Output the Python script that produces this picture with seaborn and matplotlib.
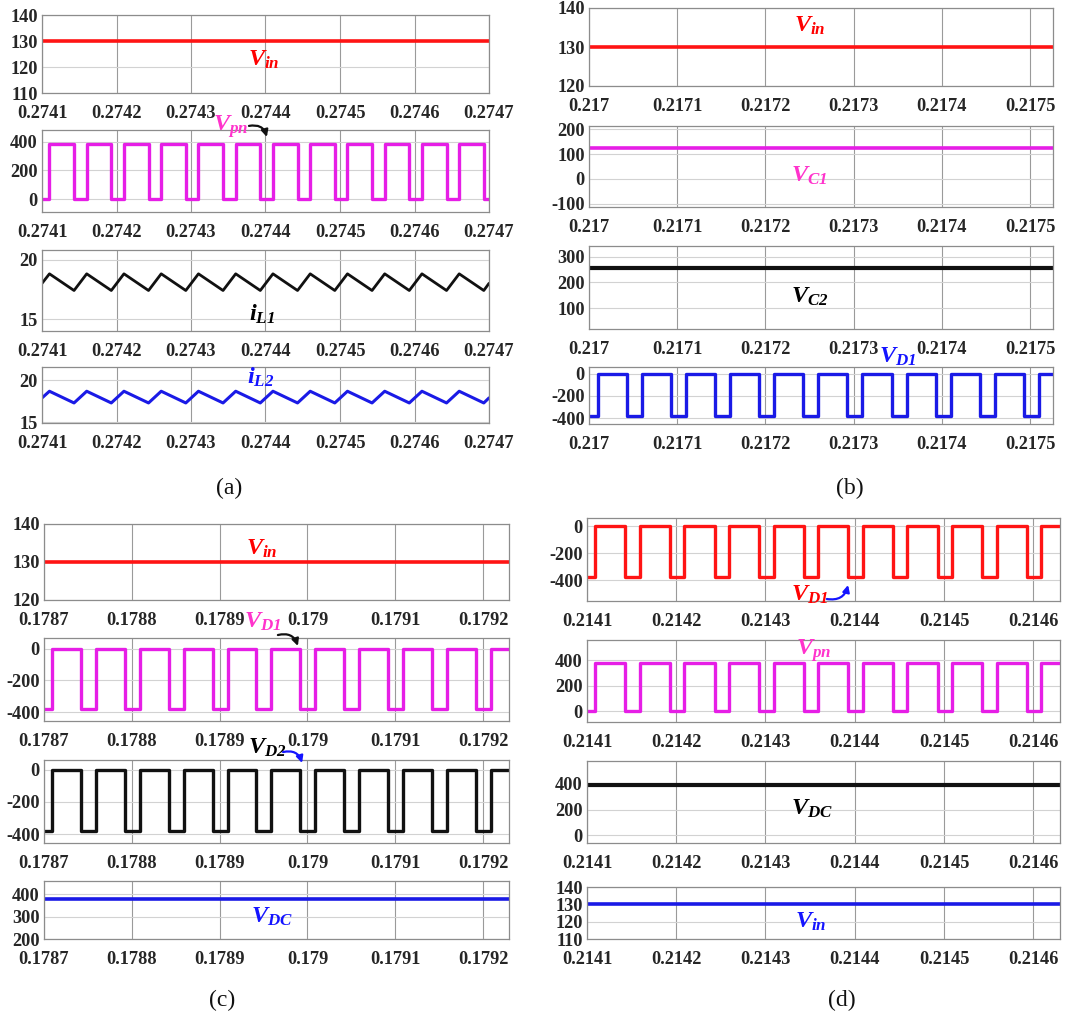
import matplotlib
matplotlib.use("Agg")
import matplotlib.pyplot as plt
import pandas as pd
import seaborn as sns

# ---------------- data ----------------
# (a) window 0.2741 .. 0.2747 s
a_xticks = [0.2741, 0.2742, 0.2743, 0.2744, 0.2745, 0.2746, 0.2747]
a_xlabels = ["0.2741", "0.2742", "0.2743", "0.2744", "0.2745", "0.2746", "0.2747"]
a_vin = 130
a_vpn_on = [0.274110, 0.274160, 0.274210, 0.274260, 0.274310, 0.274360,
            0.274410, 0.274460, 0.274510, 0.274560, 0.274610, 0.274660]
a_vpn_off = [0.274143, 0.274193, 0.274243, 0.274293, 0.274343, 0.274393,
             0.274443, 0.274493, 0.274543, 0.274593, 0.274643, 0.274693]
a_vpn_levels = [0, 380]
a_il1_peak, a_il1_valley, a_il1_ends = 18.8, 17.4, [18.0, 18.0]
a_il2_peak, a_il2_valley, a_il2_ends = 18.7, 17.3, [17.9, 17.9]

# (b) window 0.217 .. 0.21753 s
b_xticks = [0.217, 0.2171, 0.2172, 0.2173, 0.2174, 0.2175]
b_xlabels = ["0.217", "0.2171", "0.2172", "0.2173", "0.2174", "0.2175"]
b_vin = 130
b_vc1 = 126
b_vc2 = 256
b_vd1_on = [0.217010, 0.217060, 0.217110, 0.217160, 0.217210, 0.217260,
            0.217310, 0.217360, 0.217410, 0.217460, 0.217510]
b_vd1_off = [0.217043, 0.217093, 0.217143, 0.217193, 0.217243, 0.217293,
             0.217343, 0.217393, 0.217443, 0.217493]
b_vd1_levels = [-380, 0]

# (c) window 0.1787 .. 0.17923 s
c_xticks = [0.1787, 0.1788, 0.1789, 0.179, 0.1791, 0.1792]
c_xlabels = ["0.1787", "0.1788", "0.1789", "0.179", "0.1791", "0.1792"]
c_vin = 130
c_vd_on = [0.178709, 0.178759, 0.178809, 0.178859, 0.178909, 0.178959,
           0.179009, 0.179059, 0.179109, 0.179159, 0.179209]
c_vd_off = [0.178742, 0.178792, 0.178842, 0.178892, 0.178942, 0.178992,
            0.179042, 0.179092, 0.179142, 0.179192]
c_vd_levels = [-380, 0]
c_vdc = 380

# (d) window 0.2141 .. 0.21463 s
d_xticks = [0.2141, 0.2142, 0.2143, 0.2144, 0.2145, 0.2146]
d_xlabels = ["0.2141", "0.2142", "0.2143", "0.2144", "0.2145", "0.2146"]
d_sw_on = [0.214109, 0.214159, 0.214209, 0.214259, 0.214309, 0.214359,
           0.214409, 0.214459, 0.214509, 0.214559, 0.214609]
d_sw_off = [0.214143, 0.214193, 0.214243, 0.214293, 0.214343, 0.214393,
            0.214443, 0.214493, 0.214543, 0.214593]
d_vd1_levels = [-380, 0]
d_vpn_levels = [0, 380]
d_vdc = 390
d_vin = 130

# ---------------- style ----------------
sns.set_theme(style="whitegrid")
plt.rcParams.update({
    "font.family": ["Liberation Serif", "DejaVu Serif"],
    "font.weight": "bold",
    "axes.unicode_minus": False,
    "mathtext.fontset": "custom",
    "mathtext.it": "Liberation Serif:italic:bold",
    "mathtext.rm": "Liberation Serif:italic:bold",
    "mathtext.bf": "Liberation Serif:italic:bold",
})

RED = "#ff1414"
MAG = "#e61ee6"
BLK = "#111111"
BLU = "#1a1ae6"

W, H = 1075, 1017
fig = plt.figure(figsize=(W / 100, H / 100), dpi=100)


def make_ax(l, t, r, b, xlim, xticks, xlabels, ylim, yticks):
    ax = fig.add_axes([l / W, 1 - b / H, (r - l) / W, (b - t) / H])
    ax.set_xlim(*xlim)
    ax.set_ylim(*ylim)
    ax.set_xticks(xticks)
    ax.set_xticklabels(xlabels)
    ax.set_yticks(yticks)
    ax.set_yticklabels([str(v) for v in yticks])
    ax.xaxis.grid(True, color="#9a9a9a", lw=0.8)
    ax.yaxis.grid(True, color="#d2d2d2", lw=0.8)
    for s in ax.spines.values():
        s.set_color("#8c8c8c")
        s.set_linewidth(0.9)
    ax.tick_params(axis="x", length=0, pad=8.5, labelsize=13.2)
    ax.tick_params(axis="y", length=0, pad=3, labelsize=13.2)
    for lab in ax.get_xticklabels() + ax.get_yticklabels():
        lab.set_fontweight("bold")
    return ax


def square_wave(xlim, on_times, off_times, levels):
    low, high = levels
    edges = sorted([(t, high) for t in on_times] + [(t, low) for t in off_times])
    start = low if edges[0][1] == high else high
    t = [xlim[0]] + [e[0] for e in edges] + [xlim[1]]
    v = [start] + [e[1] for e in edges] + [edges[-1][1]]
    return pd.DataFrame({"t": t, "v": v})


def triangle_wave(xlim, peak_times, valley_times, peak, valley, ends):
    pts = sorted([(t, peak) for t in peak_times] + [(t, valley) for t in valley_times])
    t = [xlim[0]] + [p[0] for p in pts] + [xlim[1]]
    v = [ends[0]] + [p[1] for p in pts] + [ends[1]]
    return pd.DataFrame({"t": t, "v": v})


def flat(xlim, value):
    return pd.DataFrame({"t": [xlim[0], xlim[1]], "v": [value, value]})


def draw(ax, df, color, lw=2.4, steps=False):
    kw = dict(drawstyle="steps-post") if steps else {}
    sns.lineplot(data=df, x="t", y="v", ax=ax, color=color, lw=lw,
                 estimator=None, sort=False, **kw)
    ax.set(xlabel="", ylabel="")


def label(ax, x, y, text, color):
    ax.text(x, y, text, transform=ax.transAxes, ha="center", va="center",
            color=color, fontsize=17.5, clip_on=False)


def arrow(ax, p0, p1, color, rad):
    ax.annotate("", xy=p1, xytext=p0, xycoords=ax.transAxes,
                textcoords=ax.transAxes, annotation_clip=False,
                arrowprops=dict(arrowstyle="-|>", color=color, lw=1.6,
                                mutation_scale=10,
                                connectionstyle=f"arc3,rad={rad}",
                                shrinkA=0, shrinkB=0))


# ---------------- panel (a) ----------------
axl = (0.2741, 0.2747)
ax = make_ax(42, 15, 489, 93, axl, a_xticks, a_xlabels, (110, 140), [110, 120, 130, 140])
draw(ax, flat(axl, a_vin), RED, lw=2.6)
label(ax, 0.497, 0.423, r"$V_{in}$", "#ff0000")

ax = make_ax(42, 130, 489, 212, axl, a_xticks, a_xlabels, (-90, 480), [0, 200, 400])
draw(ax, square_wave(axl, a_vpn_on, a_vpn_off, a_vpn_levels), MAG, steps=True)
label(ax, 0.422, 1.04, r"$V_{pn}$", "#ff33cc")
arrow(ax, (0.463, 1.05), (0.503, 0.915), "#111111", -0.45)

ax = make_ax(42, 250, 489, 331, axl, a_xticks, a_xlabels, (14, 20.8), [15, 20])
draw(ax, triangle_wave(axl, a_vpn_on, a_vpn_off, a_il1_peak, a_il1_valley, a_il1_ends), BLK, lw=2.0)
label(ax, 0.493, 0.2, r"$i_{L1}$", "#000000")

ax = make_ax(42, 367, 489, 423, axl, a_xticks, a_xlabels, (14.9, 21.6), [15, 20])
draw(ax, triangle_wave(axl, a_vpn_on, a_vpn_off, a_il2_peak, a_il2_valley, a_il2_ends), BLU, lw=2.2)
label(ax, 0.488, 0.81, r"$i_{L2}$", "#1414ff")

# ---------------- panel (b) ----------------
bxl = (0.217, 0.217526)
ax = make_ax(589, 8, 1053, 86, bxl, b_xticks, b_xlabels, (120, 140), [120, 130, 140])
draw(ax, flat(bxl, b_vin), RED, lw=2.6)
label(ax, 0.476, 0.77, r"$V_{in}$", "#ff0000")

ax = make_ax(589, 126, 1053, 207, bxl, b_xticks, b_xlabels, (-113, 213), [-100, 0, 100, 200])
draw(ax, flat(bxl, b_vc1), MAG, lw=2.6)
label(ax, 0.474, 0.383, r"$V_{C1}$", "#ff33cc")

ax = make_ax(589, 246, 1053, 329, bxl, b_xticks, b_xlabels, (20, 341), [100, 200, 300])
draw(ax, flat(bxl, b_vc2), BLK, lw=3.0)
label(ax, 0.476, 0.39, r"$V_{C2}$", "#000000")

ax = make_ax(589, 367, 1053, 424, bxl, b_xticks, b_xlabels, (-450, 58), [-400, -200, 0])
draw(ax, square_wave(bxl, b_vd1_on, b_vd1_off, b_vd1_levels), BLU, steps=True)
label(ax, 0.666, 1.175, r"$V_{D1}$", "#1414ff")

# ---------------- panel (c) ----------------
cxl = (0.1787, 0.1792296)
ax = make_ax(44, 524, 509, 600, cxl, c_xticks, c_xlabels, (120, 140), [120, 130, 140])
draw(ax, flat(cxl, c_vin), RED, lw=2.6)
label(ax, 0.469, 0.67, r"$V_{in}$", "#ff0000")

ax = make_ax(44, 638, 509, 721, cxl, c_xticks, c_xlabels, (-455, 67), [-400, -200, 0])
draw(ax, square_wave(cxl, c_vd_on, c_vd_off, c_vd_levels), MAG, steps=True)
label(ax, 0.471, 1.19, r"$V_{D1}$", "#ff33cc")
arrow(ax, (0.503, 1.036), (0.546, 0.904), "#111111", -0.45)

ax = make_ax(44, 760, 509, 843, cxl, c_xticks, c_xlabels, (-456, 62), [-400, -200, 0])
draw(ax, square_wave(cxl, c_vd_on, c_vd_off, c_vd_levels), BLK, steps=True)
label(ax, 0.48, 1.145, r"$V_{D2}$", "#000000")
arrow(ax, (0.514, 1.096), (0.555, 0.964), "#1414ff", -0.45)

ax = make_ax(44, 881, 509, 939, cxl, c_xticks, c_xlabels, (200, 460), [200, 300, 400])
draw(ax, flat(cxl, c_vdc), BLU, lw=2.6)
label(ax, 0.49, 0.38, r"$V_{DC}$", "#1414ff")

# ---------------- panel (d) ----------------
dxl = (0.2141, 0.214630)
ax = make_ax(587, 518, 1060, 601, dxl, d_xticks, d_xlabels, (-555, 63), [-400, -200, 0])
draw(ax, square_wave(dxl, d_sw_on, d_sw_off, d_vd1_levels), RED, steps=True)
label(ax, 0.471, 0.07, r"$V_{D1}$", "#ff0000")
arrow(ax, (0.507, 0.024), (0.552, 0.193), "#1414ff", 0.45)

ax = make_ax(587, 640, 1060, 722, dxl, d_xticks, d_xlabels, (-85, 560), [0, 200, 400])
draw(ax, square_wave(dxl, d_sw_on, d_sw_off, d_vpn_levels), MAG, steps=True)
label(ax, 0.48, 0.866, r"$V_{pn}$", "#ff33cc")

ax = make_ax(587, 761, 1060, 843, dxl, d_xticks, d_xlabels, (-58, 574), [0, 200, 400])
draw(ax, flat(dxl, d_vdc), BLK, lw=3.0)
label(ax, 0.476, 0.415, r"$V_{DC}$", "#000000")

ax = make_ax(587, 887, 1060, 939, dxl, d_xticks, d_xlabels, (110, 140), [110, 120, 130, 140])
draw(ax, flat(dxl, d_vin), BLU, lw=2.6)
label(ax, 0.474, 0.33, r"$V_{in}$", "#1414ff")

# ---------------- panel captions ----------------
for x, y, s in [(229, 488, "(a)"), (850, 488, "(b)"), (222, 1000, "(c)"), (842, 1000, "(d)")]:
    fig.text(x / W, 1 - y / H, s, ha="center", va="center", fontsize=17,
             fontweight="normal", family="Liberation Serif", color="#111111")

fig.savefig("out.png", dpi=100, facecolor="white")
